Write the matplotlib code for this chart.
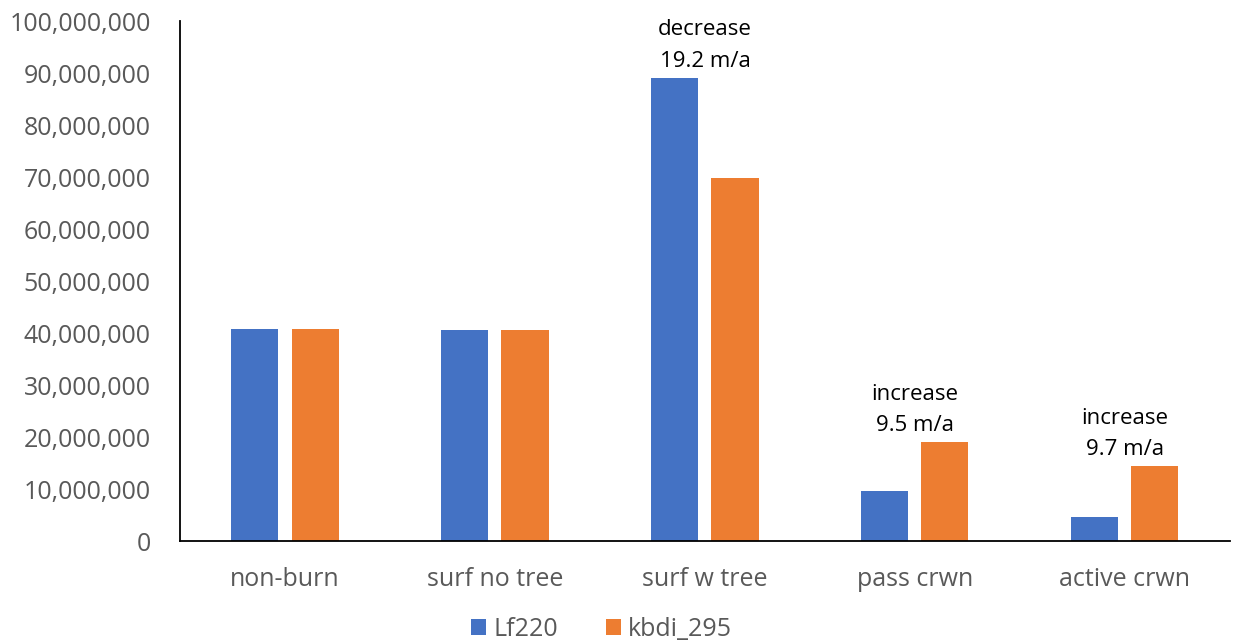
import matplotlib.pyplot as plt
import numpy as np

categories = ["non-burn", "surf no tree", "surf w tree", "pass crwn", "active crwn"]
lf220 = [40.8e6, 40.6e6, 89.1e6, 9.6e6, 4.6e6]
kbdi_295 = [40.8e6, 40.6e6, 69.9e6, 19.0e6, 14.4e6]
notes = {2: "decrease\n19.2 m/a", 3: "increase\n9.5 m/a", 4: "increase\n9.7 m/a"}

plt.rcParams['font.family'] = ['Open Sans', 'DejaVu Sans']

fig = plt.figure(figsize=(12.33, 6.41), dpi=100)
ax = fig.add_axes([0.146, 0.156, 0.8515, 0.811])

x = np.arange(len(categories))
w = 0.224
ax.bar(x - 0.143, lf220, w, color="#4472C4", label="Lf220")
ax.bar(x + 0.143, kbdi_295, w, color="#ED7D31", label="kbdi_295")

for i, txt in notes.items():
    top = max(lf220[i], kbdi_295[i])
    ax.text(i, top + 1.2e6, txt, ha="center", va="bottom", fontsize=16,
            color="black", linespacing=1.65)

ax.set_xlim(-0.5, 4.5)
ax.set_ylim(0, 100e6)
ax.set_yticks(np.arange(0, 100e6 + 1, 10e6))
ax.yaxis.set_major_formatter(plt.FuncFormatter(lambda v, p: f"{int(v):,}"))
ax.set_xticks(x)
ax.set_xticklabels(categories)
ax.tick_params(axis="both", length=0, labelsize=18, labelcolor="#595959")
ax.tick_params(axis="x", pad=19)
ax.tick_params(axis="y", pad=21)

for s in ["top", "right"]:
    ax.spines[s].set_visible(False)
ax.spines["left"].set_color("black")
ax.spines["bottom"].set_color("black")
ax.spines["left"].set_linewidth(1.3)
ax.spines["bottom"].set_linewidth(1.3)

leg = fig.legend(loc="lower center", bbox_to_anchor=(0.488, -0.036), ncol=2,
                 frameon=False, fontsize=18, handlelength=0.6, handleheight=0.6,
                 handletextpad=0.3, columnspacing=1.9)
for t in leg.get_texts():
    t.set_color("#595959")

fig.savefig("out.png", dpi=100)
